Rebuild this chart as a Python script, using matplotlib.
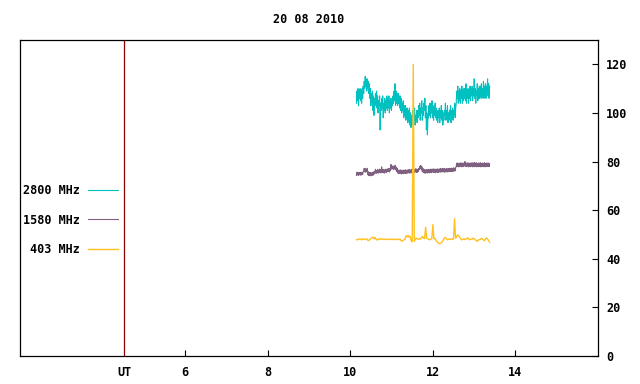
import numpy as np
import matplotlib
matplotlib.use("Agg")
import matplotlib.pyplot as plt

title = "20 08 2010"
labels = ["2800 MHz", "1580 MHz", "403 MHz"]
colors = ["#00c0c0", "#806080", "#ffc020"]
t_start, t_end = 10.15, 13.375
xticks = [4.53, 6, 8, 10, 12, 14]
xticklabels = ["UT", "6", "8", "10", "12", "14"]
yticks = [0, 20, 40, 60, 80, 100, 120]
ut_line = 4.53

f2800 = [104,109,105,110,103,108,106,110,105,109,104,110,106,111,108,113,110,115,111,114,
         109,114,110,113,108,112,106,110,103,108,105,109,101,107,99,106,104,108,103,109,
         102,107,100,105,103,107,93,104,101,106,102,107,98,104,101,106,100,105,102,107,
         101,106,102,107,100,105,102,106,101,105,103,107,104,109,105,112,103,109,104,108,
         103,108,104,107,102,107,101,106,100,104,101,105,98,103,99,103,97,102,98,102,
         96,101,97,102,95,100,94,99,96,101,95,100,97,102,95,99,97,101,96,101,
         98,103,99,104,97,102,100,105,97,102,99,104,101,106,98,103,93,100,91,98,
         98,103,99,104,98,103,100,105,98,103,97,102,99,104,98,102,97,101,96,101,
         98,102,96,101,98,103,97,101,95,100,97,101,99,104,97,101,98,103,96,100,
         97,101,99,103,96,101,98,102,97,101,99,104,98,102,104,109,106,111,104,109,
         105,110,104,109,106,111,104,109,105,110,106,110,105,112,104,109,106,110,104,109,
         106,111,105,110,107,111,105,110,107,114,106,110,104,109,107,112,105,110,106,111,
         106,111,107,112,106,110,107,113,106,111,108,112,106,111,108,114,107,112,106,111]

f1580 = [74.3,75.6,74.5,75.4,74.2,75.5,74.6,75.3,74.4,75.6,74.5,75.4,74.7,75.8,75.9,77.2,75.8,77.1,75.6,76.8,
         76,77.2,74.6,75.8,74.2,75.4,74.3,75.5,74.1,75.3,74.5,75.6,74.3,75.7,74.8,76,75.5,76.8,75.1,76.3,
         75.4,76.8,75.2,76.5,75.6,76.9,75.3,76.6,75.5,77.8,75.4,76.7,75.6,76.8,75.2,76.5,75.7,76.9,75.4,76.7,
         75.8,77,76,77.2,75.7,76.9,76.2,78.8,76.9,78,77,78.2,76.8,78,76.9,78.4,76.6,77.8,75.9,77.2,
         75.3,76.5,75,76.3,75.2,76.6,75.1,76.4,74.9,76.2,75.2,76.5,75,76.3,75.3,76.6,75.1,76.4,75.2,76.5,
         75.3,76.6,75.4,76.7,75.2,76.5,75.5,76.8,75.3,76.6,75.6,76.9,75.4,76.7,75.8,77,75.6,76.9,75.5,76.8,
         75.9,77.1,76.6,78,77.2,78.4,76.8,77.9,76,77.3,75.5,76.8,75.3,76.6,75.2,76.5,75.4,76.7,75.3,76.6,
         75.5,76.8,75.3,76.6,75.6,76.9,75.4,76.7,75.7,77,75.5,76.8,75.6,76.9,75.4,76.7,75.7,77,75.5,76.8,
         75.6,76.9,75.8,77.1,75.6,76.9,75.9,77.2,75.7,77,75.8,77.1,75.6,76.9,75.9,77.2,75.7,77,75.8,77.1,
         75.9,77.2,75.8,77.1,76,77.3,75.9,77.2,76.1,77.4,76,77.3,76.2,77.5,77.9,79.3,78,79.4,77.8,79.2,
         77.9,79.3,78.1,79.5,77.8,79.2,78,79.4,77.9,79.3,78.2,80,78,79.4,77.9,79.3,78.1,79.5,77.8,79.2,
         78,79.4,77.9,79.3,78.1,79.5,77.8,79.2,78,79.6,77.9,79.3,78.1,79.5,77.8,79.2,78,79.4,77.9,79.3,
         78.1,79.5,77.8,79.2,78,79.4,77.9,79.3,78.1,79.5,77.8,79.2,78,79.4,77.9,79.3,78.1,79.4,77.9,79]

f403 = [47.8,48,47.9,48.2,48,47.8,48.3,48.1,47.9,48,
        48.2,47.6,47.5,48,48.4,48.6,48.9,48.2,48.8,48,
        47.7,48.1,47.9,48.3,48,48.2,47.9,48.1,48,47.9,
        48,48.1,47.9,48,48.2,47.9,48,48.1,47.8,48,
        48,47.9,48.1,47.6,47.2,47.5,47.8,48,49.5,49,
        49.6,48.8,49.3,47.5,47,120,47.2,48,48.5,48.2,
        48,48.3,48.1,48.6,49.2,48.5,48.3,53,48.5,48.2,
        48,47.8,48.1,48.3,54,48.2,48.4,47.6,47,46.6,
        46.3,46.2,46.5,47,47.6,48.5,48.8,48.3,47.8,48,
        48.2,47.9,48.3,48,48.1,56.5,48.5,49.2,49.8,49.5,
        48.9,48.2,47.8,48,48.3,47.9,48.1,48.4,48.6,48,
        47.8,48.1,48,48.5,48.2,47.9,47.5,47.2,47.6,47.9,
        48,48.4,48.1,47.8,47.4,48.2,48.6,48.1,47.5,46.8]

series = [f2800, f1580, f403]
widths = [0.8, 0.8, 1.0]

plt.rcParams['font.family'] = ['DejaVu Sans Mono']
plt.rcParams['font.weight'] = 'bold'
fs = 8.5

fig = plt.figure(figsize=(6.4, 3.84), dpi=100)
ax = fig.add_axes([20/640, 1-356/384, (598-20)/640, (356-40)/384])

for vals, lab, col, w in zip(series, labels, colors, widths):
    t = np.linspace(t_start, t_end, len(vals))
    ax.plot(t, vals, color=col, lw=w, label=lab)

ax.axvline(ut_line, color="#8b0000", lw=0.9)

ax.set_xlim(2, 16)
ax.set_ylim(0, 130)
ax.set_xticks(xticks)
ax.set_xticklabels(xticklabels, fontsize=fs, fontweight='bold')
ax.yaxis.tick_right()
ax.set_yticks(yticks)
ax.set_yticklabels([str(v) for v in yticks], fontsize=fs, fontweight='bold')
ax.tick_params(axis='x', direction='in', length=4, width=0.8, pad=7, top=False)
ax.tick_params(axis='y', direction='in', length=4, width=0.8, pad=6, left=False, right=True)
xt = ax.xaxis.get_major_ticks()
xt[0].tick1line.set_visible(False)
for s in ax.spines.values():
    s.set_linewidth(0.9)
    s.set_color("black")

ax.set_title(title, fontsize=fs, fontweight='bold', pad=12)

leg = ax.legend(loc='upper left', bbox_to_anchor=(3/578, 1 - (184-40)/316), frameon=False,
                markerfirst=False, handlelength=2.6, handletextpad=0.65,
                labelspacing=1.4, borderaxespad=0, borderpad=0,
                prop={'family': 'DejaVu Sans Mono', 'weight': 'bold', 'size': fs})

fig.savefig("out.png", dpi=100)
